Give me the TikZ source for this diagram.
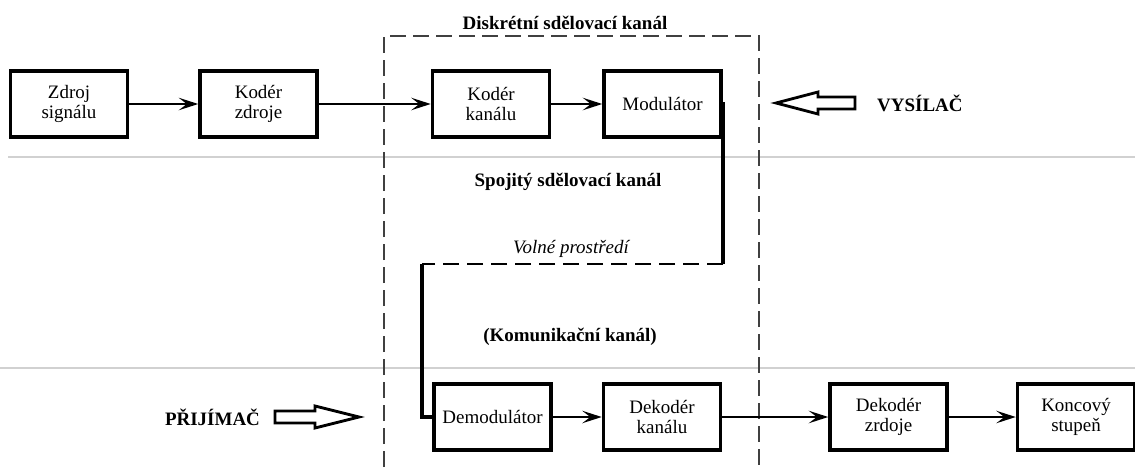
\documentclass[tikz,border=0pt]{standalone}
\usepackage{fontspec}
\setmainfont{Liberation Serif}
\usepackage{xcolor}
\usepackage{tikz}
\usetikzlibrary{arrows.meta, positioning}

\begin{document}
\begin{tikzpicture}[
                font=\fontsize{10.8}{11.8}\selectfont,
                box/.style={draw, line width=2pt, minimum width=2.34cm, minimum height=1.32cm, align=center},
                heading/.style={font=\fontsize{10.8}{12}\selectfont\bfseries},
                link/.style={line width=1.6pt, -{Stealth[length=11pt, width=7pt, inset=4.5pt]}},
                wire/.style={line width=1.8pt},
                air/.style={line width=1.5pt, dash pattern=on 0.32cm off 0.16cm},
                frame/.style={line width=0.7pt, black!75, dash pattern=on 0.32cm off 0.14cm},
                rule/.style={line width=0.8pt, black!18},
                hollow/.style={draw, line width=1.6pt, line join=miter},
            ]

                \useasboundingbox (0,0) rectangle (22.7,9.34);

                % Grey separators
                \draw[rule] (0.16,6.2) -- (22.7,6.2);
                \draw[rule] (0,1.98) -- (22.7,1.98);

                % Channel frame
                \draw[frame] (7.68,0) |- (15.18,8.62) -- (15.18,0);

                % Transmitter
                \node[box] (zdroj) at (1.38,7.26) {Zdroj\\signálu};
                \node[box, right=1.38cm of zdroj] (kodzdroj) {Kodér\\zdroje};
                \node[box, right=2.24cm of kodzdroj] (kodkan) {Kodér\\kanálu};
                \node[box, right=1.02cm of kodkan] (modul) {Modulátor};

                % Receiver
                \node[box] (demod) at (9.85,1.0) {Demodulátor};
                \node[box, right=0.98cm of demod] (dekkan) {Dekodér\\kanálu};
                \node[box, right=2.12cm of dekkan] (dekzdroj) {Dekodér\\zrdoje};
                \node[box, right=1.34cm of dekzdroj] (koncovy) {Koncový\\stupeň};

                % Labels
                \node[heading] (diskretni) at (11.3,8.88) {Diskrétní sdělovací kanál};
                \node[heading] (spojity) at (11.36,5.7) {Spojitý sdělovací kanál};
                \node[font=\fontsize{10.8}{12}\selectfont\itshape] (volne) at (11.42,4.36) {Volné prostředí};
                \node[heading] (komunik) at (11.4,2.6) {(Komunikační kanál)};
                \node[heading, anchor=west] (vysilac) at (17.42,7.28) {VYSÍLAČ};
                \node[heading] (prijimac) at (4.25,1.0) {PŘIJÍMAČ};

                % Signal path
                \draw[link] (zdroj) -- (kodzdroj);
                \draw[link] (kodzdroj) -- (kodkan);
                \draw[link] (kodkan) -- (modul);
                \draw[link] (demod) -- (dekkan);
                \draw[link] (dekkan) -- (dekzdroj);
                \draw[link] (dekzdroj) -- (koncovy);

                % Free space
                \coordinate (bendtop) at (14.46,4.06);
                \coordinate (bendleft) at (8.44,4.06);
                \draw[wire] (modul.east) -| (bendtop);
                \draw[air] (bendtop) -- (bendleft);
                \draw[wire] (bendleft) |- (demod.west);

                % Hollow arrows
                \coordinate (vystail) at (17.1,7.28);
                \draw[hollow] (vystail) ++(0,0.12) -- ++(-0.74,0) -- ++(0,0.1) -- ++(-0.84,-0.22) -- ++(0.84,-0.22) -- ++(0,0.1) -- ++(0.74,0) -- cycle;
                \coordinate (priptail) at (5.5,1.0);
                \draw[hollow] (priptail) ++(0,0.12) -- ++(0.8,0) -- ++(0,0.1) -- ++(0.88,-0.22) -- ++(-0.88,-0.22) -- ++(0,0.1) -- ++(-0.8,0) -- cycle;
            \end{tikzpicture}
\end{document}
